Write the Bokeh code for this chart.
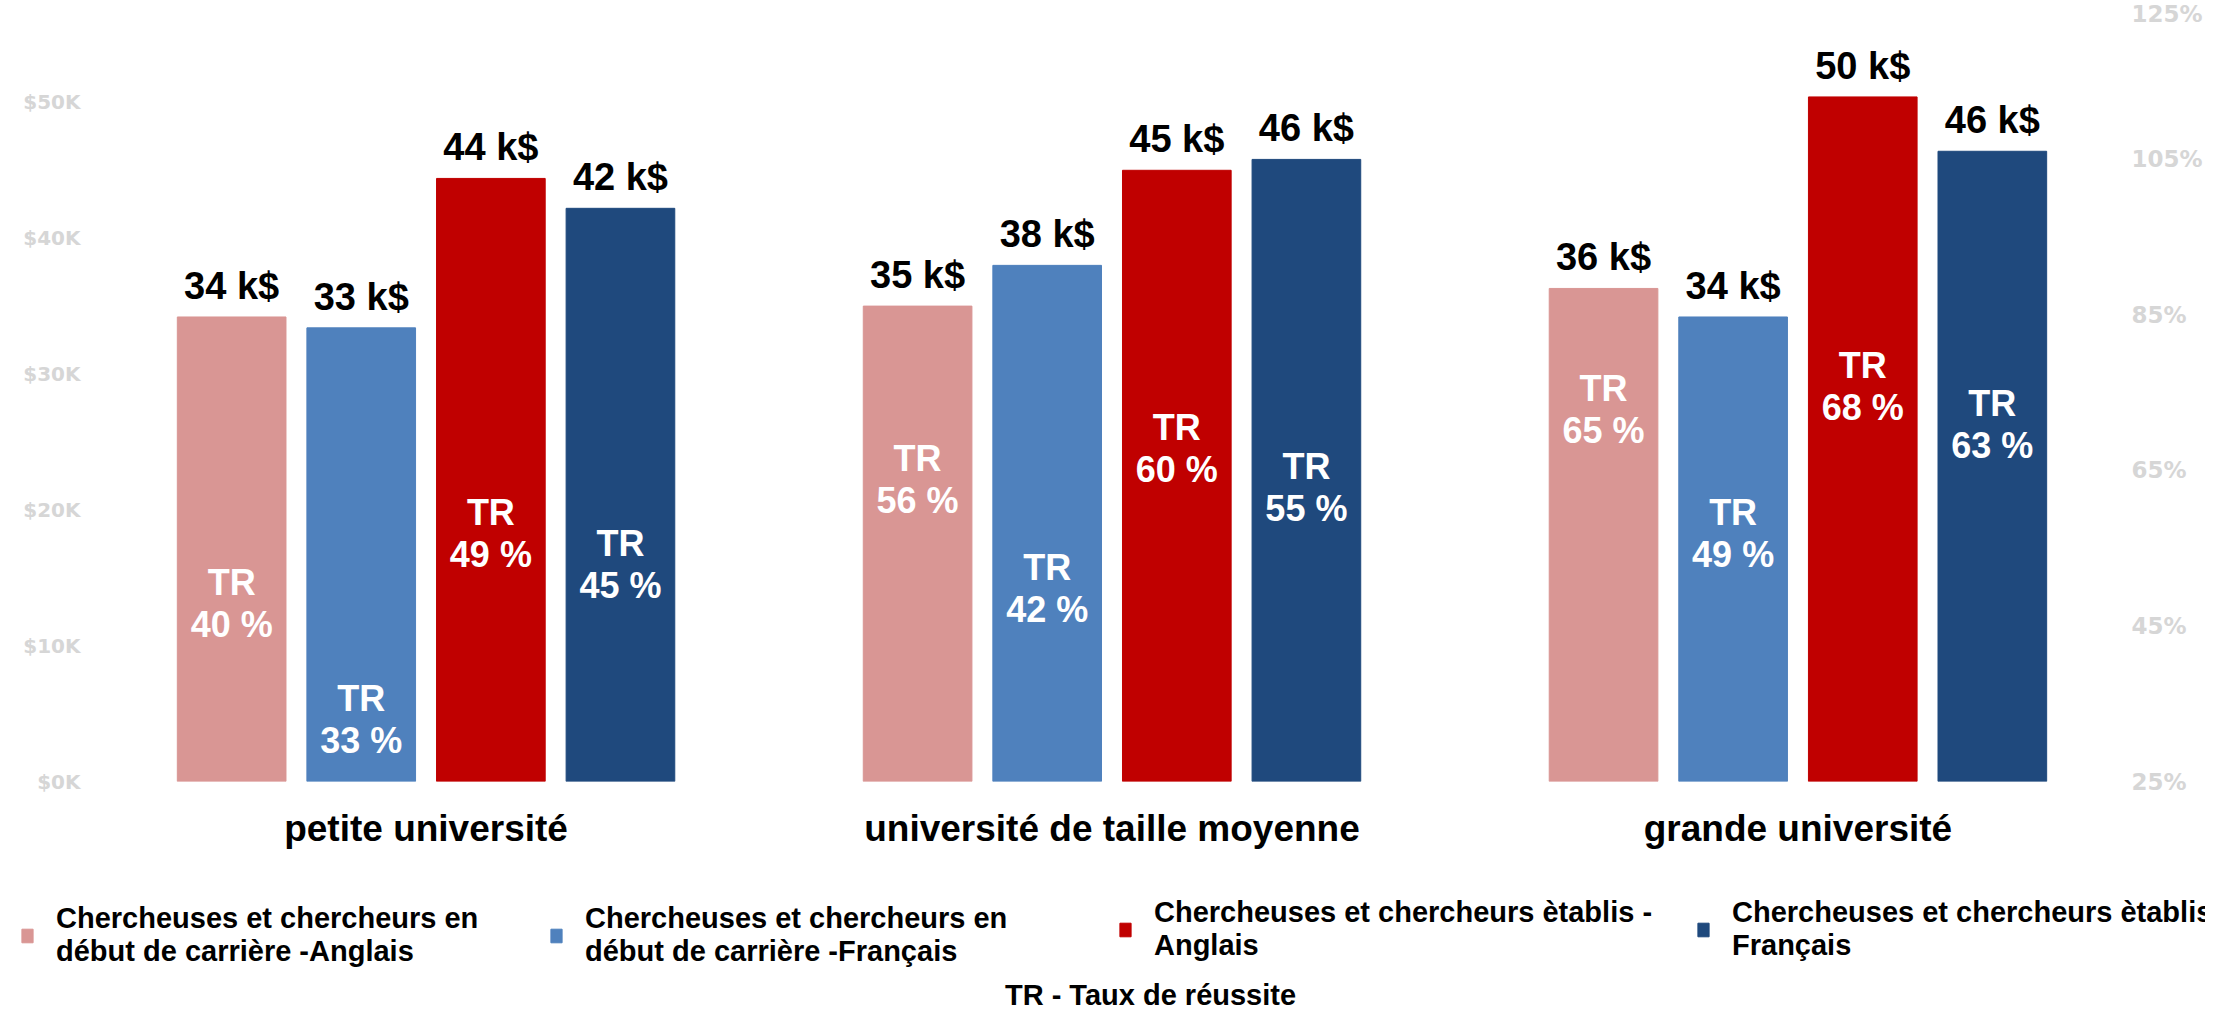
from bokeh.plotting import figure
from bokeh.models import (ColumnDataSource, LinearAxis, Range1d, FixedTicker,
                          PrintfTickFormatter, LabelSet, Legend, LegendItem, Label)
from bokeh.core.properties import value
from bokeh.transform import dodge
from bokeh.embed import file_html
from bokeh.resources import INLINE

# ---------------- data ----------------
categories = ["petite université", "université de taille moyenne", "grande université"]
series_names = [
    "Chercheuses et chercheurs en\ndébut de carrière -Anglais",
    "Chercheuses et chercheurs en\ndébut de carrière -Français",
    "Chercheuses et chercheurs ètablis -\nAnglais",
    "Chercheuses et chercheurs ètablis -\nFrançais",
]
early_en_k = [34.2, 35.0, 36.3]
early_fr_k = [33.4, 38.0, 34.2]
estab_en_k = [44.4, 45.0, 50.4]
estab_fr_k = [42.2, 45.8, 46.4]
early_en_tr = [40, 56, 65]
early_fr_tr = [33, 42, 49]
estab_en_tr = [49, 60, 68]
estab_fr_tr = [45, 55, 63]
left_ticks = [0, 10, 20, 30, 40, 50]
right_ticks = [25, 45, 65, 85, 105, 125]
footnote = "TR - Taux de réussite"

# ---------------- style ----------------
colors = ["#D99694", "#4F81BD", "#C00000", "#1F497D"]
FONT = "Liberation Sans"
bar_offsets = [-0.2834, -0.0945, 0.0945, 0.2834]
bar_width = 0.1584
tr_label_dy = [[61, 61, 61], [0, 61, 61], [61, 61, 61], [61, 61, 61]]
legend_x = [20, 549, 1118, 1696]
legend_y = [38, 38, 44, 44]

W = 2205
H1 = 860
H2 = 146

p = figure(width=W, height=H1, output_backend="svg", toolbar_location=None,
           x_range=Range1d(-0.4746, 2.4542), y_range=Range1d(0, 57.5),
           min_border_left=100, min_border_right=90, min_border_top=0,
           min_border_bottom=H1 - 781, title="")
p.title.visible = False
p.outline_line_color = None
p.grid.visible = False
p.background_fill_color = "white"
p.border_fill_color = "white"

# x axis carries the category labels
xa = p.xaxis[0]
xa.ticker = FixedTicker(ticks=[0, 1, 2])
xa.major_label_overrides = {i: c for i, c in enumerate(categories)}
xa.axis_line_color = None
xa.major_tick_line_color = None
xa.minor_tick_line_color = None
xa.major_label_text_font = FONT
xa.major_label_text_font_style = "bold"
xa.major_label_text_font_size = "37px"
xa.major_label_text_color = "black"
xa.major_label_standoff = 20

# left axis ($)
ya = p.yaxis[0]
ya.ticker = FixedTicker(ticks=left_ticks)
ya.formatter = PrintfTickFormatter(format="$%dK")
ya.axis_line_color = None
ya.major_tick_line_color = None
ya.minor_tick_line_color = None
ya.major_label_text_font = "DejaVu Sans"
ya.major_label_text_font_style = "bold"
ya.major_label_text_font_size = "20px"
ya.major_label_text_color = "#d6d6d6"
ya.major_label_standoff = 14

# right axis (%)
p.extra_y_ranges = {"pct": Range1d(25, 125.4)}
ra = LinearAxis(y_range_name="pct", ticker=FixedTicker(ticks=right_ticks),
                formatter=PrintfTickFormatter(format="%d%%"))
ra.axis_line_color = None
ra.major_tick_line_color = None
ra.minor_tick_line_color = None
ra.major_label_text_font = "DejaVu Sans"
ra.major_label_text_font_style = "bold"
ra.major_label_text_font_size = "23px"
ra.major_label_text_color = "#d6d6d6"
ra.major_label_standoff = 16
p.add_layout(ra, "right")

values = [early_en_k, early_fr_k, estab_en_k, estab_fr_k]
rates = [early_en_tr, early_fr_tr, estab_en_tr, estab_fr_tr]

renderers = []
for i in range(4):
    src = ColumnDataSource(dict(
        x=list(range(len(categories))),
        k=values[i],
        tr=rates[i],
        klab=[f"{round(v)} k$" for v in values[i]],
        trtop=["TR"] * len(categories),
        trlab=[f"{t} %" for t in rates[i]],
        dy_top=[d + 21 for d in tr_label_dy[i]],
        dy_bot=[d - 21 for d in tr_label_dy[i]],
    ))
    xd = dodge("x", bar_offsets[i], range=p.x_range)
    r = p.vbar(x=xd, top="k", width=bar_width, bottom=0, source=src,
               fill_color=colors[i], line_color=colors[i])
    renderers.append(r)
    p.add_layout(LabelSet(x=xd, y="k", text="klab", source=src, y_offset=18,
                          text_align="center", text_baseline="alphabetic",
                          text_font=value(FONT), text_font_style="bold",
                          text_font_size="38px", text_color="black"))
    for col, dy in (("trtop", "dy_top"), ("trlab", "dy_bot")):
        p.add_layout(LabelSet(x=xd, y="tr", y_range_name="pct", text=col, source=src,
                              y_offset=dy, text_align="center", text_baseline="middle",
                              text_font=value(FONT), text_font_style="bold",
                              text_font_size="36px", text_color="white"))

# ---------------- legend + footnote strip (separate root, no frame alignment) ----------------
q = figure(width=W, height=H2, output_backend="svg", toolbar_location=None,
           x_range=Range1d(0, W), y_range=Range1d(0, H2),
           x_axis_location=None, y_axis_location=None,
           min_border=0, min_border_left=0, min_border_right=0,
           min_border_top=0, min_border_bottom=0, title="")
q.title.visible = False
q.grid.visible = False
q.outline_line_color = None
q.background_fill_color = "white"
q.border_fill_color = "white"

for i in range(4):
    lr = q.vbar(x=[-100], top=[0], width=1, fill_color=colors[i], line_color=colors[i])
    lg = Legend(items=[LegendItem(label=series_names[i], renderers=[lr])],
                location=(legend_x[i], legend_y[i]), orientation="vertical",
                padding=0, margin=0, spacing=0, border_line_color=None,
                background_fill_alpha=0, glyph_width=14, glyph_height=17,
                label_standoff=22, label_text_font=FONT,
                label_text_font_style="bold", label_text_font_size="29px",
                label_text_line_height=1.28, label_text_color="black")
    q.add_layout(lg, "center")

q.add_layout(Label(x=1150, y=12, x_units="screen", y_units="screen",
                   text=footnote, text_align="center", text_baseline="alphabetic",
                   text_font=FONT, text_font_style="bold", text_font_size="29px",
                   text_color="black"))

open("out.html", "w").write(file_html([p, q], INLINE))
